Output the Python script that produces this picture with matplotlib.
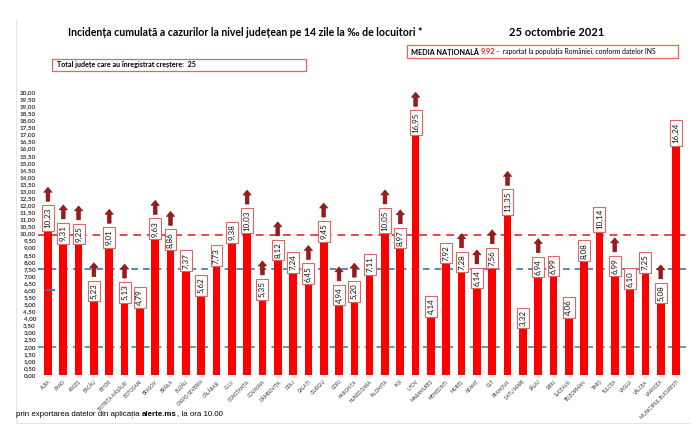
import numpy as np
import matplotlib
matplotlib.use("Agg")
import matplotlib.pyplot as plt
from matplotlib.lines import Line2D
from matplotlib.patches import Rectangle

plt.rcParams['font.family'] = ['Lato', 'DejaVu Sans']

# judete, in ordinea din grafic
judete = ["ALBA", "ARAD", "ARGEȘ", "BACĂU", "BIHOR", "BISTRIȚA-NĂSĂUD", "BOTOȘANI",
          "BRAȘOV", "BRĂILA", "BUZĂU", "CARAȘ-SEVERIN", "CĂLĂRAȘI", "CLUJ", "CONSTANȚA",
          "COVASNA", "DÂMBOVIȚA", "DOLJ", "GALAȚI", "GIURGIU", "GORJ", "HARGHITA",
          "HUNEDOARA", "IALOMIȚA", "IAȘI", "ILFOV", "MARAMUREȘ", "MEHEDINȚI", "MUREȘ",
          "NEAMȚ", "OLT", "PRAHOVA", "SATU MARE", "SĂLAJ", "SIBIU", "SUCEAVA",
          "TELEORMAN", "TIMIȘ", "TULCEA", "VASLUI", "VÂLCEA", "VRANCEA",
          "MUNICIPIUL BUCUREȘTI"]

incidenta = [10.23, 9.31, 9.25, 5.23, 9.01, 5.13, 4.79, 9.63, 8.86, 7.37, 5.62, 7.73,
             9.38, 10.03, 5.35, 8.12, 7.24, 6.45, 9.45, 4.94, 5.20, 7.11, 10.05, 8.97,
             16.95, 4.14, 7.92, 7.28, 6.14, 7.56, 11.35, 3.32, 6.94, 6.99, 4.06, 8.08,
             10.14, 6.99, 6.10, 7.25, 5.08, 16.24]

# 1 = judet in crestere (sageata)
crestere = [1, 1, 1, 1, 1, 1, 0, 1, 1, 0, 0, 0, 0, 1, 1, 1, 0, 1, 1, 1, 1,
            0, 1, 1, 1, 0, 0, 1, 1, 1, 1, 0, 1, 0, 0, 0, 0, 1, 0, 0, 1, 0]

media_nationala = 9.92
prag_albastru = 7.5
prag_verde = 2.0
yticks = np.arange(0, 20.01, 0.5)

fig = plt.figure(figsize=(7, 4.41), dpi=100)
W, H = 700, 441


def fx(px):
    return px / W


def fy(py):
    return 1 - py / H


ax = fig.add_axes([fx(38), fy(375), fx(686) - fx(38), fy(92) - fy(375)])
x = np.arange(len(judete))
ax.bar(x, incidenta, width=0.5, color='#ff0000', zorder=2)

ax.axhline(media_nationala, color='#e8474a', lw=1.4, ls=(0, (4, 3)), zorder=1)
ax.axhline(prag_albastru, color='#3e75aa', lw=1.2, ls=(0, (4, 3)), zorder=1)
ax.axhline(prag_verde, color='#3d9a70', lw=1.2, ls=(0, (4, 3)), zorder=1)
ax.hlines(6.0, -0.15, 0.45, color='#3e75aa', lw=1.4, zorder=3)

ax.set_xlim(-0.65, len(judete) - 1 + 0.65)
ax.set_ylim(0, 20)
ax.set_yticks(yticks)
ax.set_yticklabels([f"{v:.2f}".replace('.', ',') for v in yticks],
                   fontsize=4.6, fontweight='bold', color='#333333')
ax.set_xticks(x)
ax.set_xticklabels(judete, rotation=45, ha='right', rotation_mode='anchor',
                   fontsize=3.3, color='#333333')
ax.tick_params(length=0)
ax.tick_params(axis='y', pad=1.5)
ax.tick_params(axis='x', pad=3)
for s in ax.spines.values():
    s.set_visible(False)

etichete = []
for i, v in enumerate(incidenta):
    t = ax.annotate(f"{v:.2f}".replace('.', ','), xy=(i, v), xytext=(0, 1.5),
                    textcoords='offset points', rotation=90, ha='center', va='bottom',
                    fontsize=5.8, color='#111111', zorder=4,
                    bbox=dict(boxstyle='square,pad=0.3', fc='white', ec='#e06666', lw=0.8))
    etichete.append(t)

fig.canvas.draw()
inv = ax.transData.inverted()
for i, (t, c) in enumerate(zip(etichete, crestere)):
    if not c:
        continue
    bb = t.get_bbox_patch().get_window_extent()
    y0 = inv.transform((0, bb.y1 + 4))[1]
    y1 = inv.transform((0, bb.y1 + 18))[1]
    ax.annotate('', xy=(i, y1), xytext=(i, y0),
                arrowprops=dict(arrowstyle='simple,head_length=0.6,head_width=1.0,tail_width=0.45',
                                mutation_scale=6, fc='#9e1a1a', ec='#6e1010', lw=0.4,
                                shrinkA=0, shrinkB=0),
                annotation_clip=False, zorder=5)

# titluri
fig.text(fx(68), fy(32), "Incidența cumulată a cazurilor la nivel județean pe 14 zile la ‰ de locuitori *",
         fontsize=7.6, fontweight='bold', va='center', ha='left')
fig.text(fx(509), fy(32), "25 octombrie 2021", fontsize=8, fontweight='bold', va='center', ha='left')

# caseta media nationala
fig.add_artist(Rectangle((fx(407), fy(58)), fx(678) - fx(407), fy(45) - fy(58),
                         transform=fig.transFigure, fc='white', ec='#e06666', lw=0.9))
t1 = fig.text(fx(411), fy(51.5), "MEDIA NAȚIONALĂ ", fontsize=5.2, fontweight='bold',
              va='center', ha='left')
t2 = fig.text(0, 0, "9,92", fontsize=5.4, fontweight='bold', color='#e02020',
              va='center', ha='left')
t3 = fig.text(0, 0, " -  raportat la populația României, conform datelor INS", fontsize=4.9,
              va='center', ha='left')
fig.canvas.draw()
r = fig.canvas.get_renderer()
finv = fig.transFigure.inverted()
e1 = t1.get_window_extent(r)
t2.set_position((finv.transform((e1.x1, 0))[0], fy(51.5)))
e2 = t2.get_window_extent(r)
t3.set_position((finv.transform((e2.x1, 0))[0], fy(51.5)))

# caseta total judete
fig.add_artist(Rectangle((fx(52), fy(71)), fx(306) - fx(52), fy(59) - fy(71),
                         transform=fig.transFigure, fc='white', ec='#e06666', lw=0.9))
fig.text(fx(57), fy(65), "Total județe care au înregistrat creștere:  25", fontsize=5.1,
         fontweight='bold', va='center', ha='left')

# subsol
f1 = fig.text(fx(16), fy(414), "prin exportarea datelor din aplicația ", fontsize=5.7,
              family=['Liberation Sans', 'DejaVu Sans'], va='center', ha='left')
f2 = fig.text(0, 0, "alerte.ms", fontsize=5.7, fontweight='bold',
              family=['Liberation Sans', 'DejaVu Sans'], va='center', ha='left')
f3 = fig.text(0, 0, ", la ora 10.00", fontsize=5.7,
              family=['Liberation Sans', 'DejaVu Sans'], va='center', ha='left')
fig.canvas.draw()
g1 = f1.get_window_extent(r)
f2.set_position((finv.transform((g1.x1, 0))[0], fy(414)))
g2 = f2.get_window_extent(r)
f3.set_position((finv.transform((g2.x1, 0))[0], fy(414)))

# chenar gri
fig.add_artist(Line2D([fx(16), fx(16)], [fy(20), fy(423)], transform=fig.transFigure,
                      color='#e4e4e4', lw=0.8))
fig.add_artist(Line2D([fx(16), fx(690)], [fy(423), fy(423)], transform=fig.transFigure,
                      color='#e4e4e4', lw=0.8))

fig.savefig("out.png", dpi=100)
